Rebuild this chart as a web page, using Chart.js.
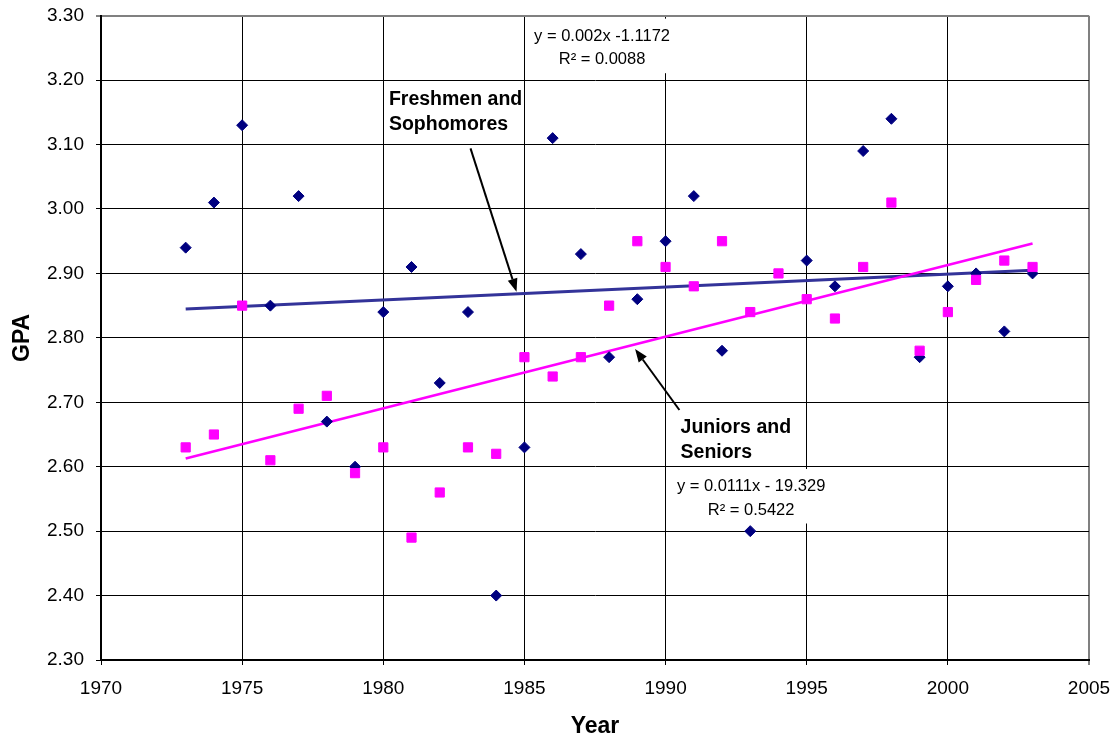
<!DOCTYPE html>
<html lang="en">
  <head>
    <meta charset="UTF-8" />
    <title>GPA by Year</title>
    <style>
      html, body { margin: 0; padding: 0; background: #fff; }
      #wrap { width: 1119px; height: 740px; }
    </style>
    <script src="https://cdn.jsdelivr.net/npm/chart.js"></script>
  </head>
  <body>
    <div id="wrap"><canvas id="gpaChart" width="1119" height="740"></canvas></div>
    <script>
      const years = [
        1973, 1974, 1975, 1976, 1977, 1978, 1979, 1980, 1981, 1982,
        1983, 1984, 1985, 1986, 1987, 1988, 1989, 1990, 1991, 1992,
        1993, 1994, 1995, 1996, 1997, 1998, 1999, 2000, 2001, 2002, 2003
      ];
      // Freshmen and Sophomores (1994 sits above the 3.30 axis max, so it is clipped)
      const fsGpa = [
        2.94, 3.01, 3.13, 2.85, 3.02, 2.67, 2.60, 2.84, 2.91, 2.73,
        2.84, 2.40, 2.63, 3.11, 2.93, 2.77, 2.86, 2.95, 3.02, 2.78,
        2.50, 3.34, 2.92, 2.88, 3.09, 3.14, 2.77, 2.88, 2.90, 2.81, 2.90
      ];
      // Juniors and Seniors
      const jsGpa = [
        2.63, 2.65, 2.85, 2.61, 2.69, 2.71, 2.59, 2.63, 2.49, 2.56,
        2.63, 2.62, 2.77, 2.74, 2.77, 2.85, 2.95, 2.91, 2.88, 2.95,
        2.84, 2.90, 2.86, 2.83, 2.91, 3.01, 2.78, 2.84, 2.89, 2.92, 2.91
      ];
      const xRange = [1970, 2005];
      const yRange = [2.3, 3.3];

      const FONT = "'Liberation Sans', Arial, sans-serif";

      // least squares trend line, like Excel's linear trendline
      function trend(xs, ys) {
        const n = xs.length;
        const mx = xs.reduce((a, b) => a + b, 0) / n;
        const my = ys.reduce((a, b) => a + b, 0) / n;
        let sxy = 0, sxx = 0;
        for (let i = 0; i < n; i++) {
          sxy += (xs[i] - mx) * (ys[i] - my);
          sxx += (xs[i] - mx) * (xs[i] - mx);
        }
        const m = sxy / sxx;
        const b = my - m * mx;
        const x0 = xs[0], x1 = xs[n - 1];
        return [{ x: x0, y: m * x0 + b }, { x: x1, y: m * x1 + b }];
      }

      const toPoints = (ys) => years.map((x, i) => ({ x: x, y: ys[i] }));

      // text notes and arrows, anchored in data units
      const notes = [
        { lines: ["Freshmen and", "Sophomores"], x: 1980.2, y: 3.1614, bold: true, align: "left", box: false },
        { lines: ["Juniors and", "Seniors"], x: 1990.53, y: 2.653, bold: true, align: "left", box: false },
        { lines: ["y = 0.002x -1.1172", "R\u00b2 = 0.0088"], x: 1987.75, y: 3.2612, bold: false, align: "center", box: true },
        { lines: ["y = 0.0111x - 19.329", "R\u00b2 = 0.5422"], x: 1993.03, y: 2.5623, bold: false, align: "center", box: true }
      ];
      const arrows = [
        { from: [1983.09, 3.094], to: [1984.72, 2.8716] },
        { from: [1990.49, 2.688], to: [1988.92, 2.7827] }
      ];

      const notesPlugin = {
        id: "notes",
        afterDatasetsDraw(chart) {
          const { ctx, scales } = chart;
          const sx = scales.x, sy = scales.y;
          ctx.save();
          notes.forEach((n) => {
            const px = sx.getPixelForValue(n.x);
            const py = sy.getPixelForValue(n.y);
            const size = n.bold ? 19.5 : 16.5;
            const gap = n.bold ? 25 : 23.5;
            ctx.font = (n.bold ? "bold " : "") + size + "px " + FONT;
            ctx.textAlign = n.align;
            ctx.textBaseline = "alphabetic";
            if (n.box) {
              const w = Math.max(...n.lines.map((l) => ctx.measureText(l).width));
              const left = n.align === "center" ? px - w / 2 : px;
              ctx.fillStyle = "#fff";
              ctx.fillRect(left - 4, py - 22, w + 8, gap * (n.lines.length - 1) + 31);
            }
            ctx.fillStyle = "#000";
            n.lines.forEach((l, i) => ctx.fillText(l, px, py + i * gap));
          });
          arrows.forEach((a) => {
            const x0 = sx.getPixelForValue(a.from[0]), y0 = sy.getPixelForValue(a.from[1]);
            const x1 = sx.getPixelForValue(a.to[0]), y1 = sy.getPixelForValue(a.to[1]);
            const ang = Math.atan2(y1 - y0, x1 - x0);
            const len = 13, half = 5;
            const bx = x1 - len * Math.cos(ang), by = y1 - len * Math.sin(ang);
            ctx.strokeStyle = "#000";
            ctx.lineWidth = 2;
            ctx.beginPath();
            ctx.moveTo(x0, y0);
            ctx.lineTo(bx, by);
            ctx.stroke();
            ctx.fillStyle = "#000";
            ctx.beginPath();
            ctx.moveTo(x1, y1);
            ctx.lineTo(bx + half * Math.sin(ang), by - half * Math.cos(ang));
            ctx.lineTo(bx - half * Math.sin(ang), by + half * Math.cos(ang));
            ctx.closePath();
            ctx.fill();
          });
          ctx.restore();
        }
      };

      const ctx = document.getElementById("gpaChart").getContext("2d");
      new Chart(ctx, {
        type: "scatter",
        data: {
          datasets: [
            {
              label: "Juniors and Seniors",
              data: toPoints(jsGpa),
              pointStyle: "rect",
              pointRadius: 6.5,
              pointBorderWidth: 1,
              backgroundColor: "#ff00ff",
              borderColor: "#ff00ff",
              order: 0
            },
            {
              label: "Freshmen and Sophomores",
              data: toPoints(fsGpa),
              pointStyle: "rectRot",
              pointRadius: 5.5,
              pointBorderWidth: 1,
              backgroundColor: "#000080",
              borderColor: "#000080",
              order: 1
            },
            {
              type: "line",
              label: "Juniors and Seniors trend",
              data: trend(years, jsGpa),
              borderColor: "#ff00ff",
              borderWidth: 2.6,
              pointRadius: 0,
              fill: false,
              order: 2
            },
            {
              type: "line",
              label: "Freshmen and Sophomores trend",
              data: trend(years, fsGpa),
              borderColor: "#333399",
              borderWidth: 3,
              pointRadius: 0,
              fill: false,
              order: 3
            }
          ]
        },
        options: {
          responsive: false,
          animation: false,
          devicePixelRatio: 1,
          layout: { padding: { left: 0, right: 30, top: 15.7, bottom: 0 } },
          plugins: {
            legend: { display: false },
            tooltip: { enabled: false }
          },
          scales: {
            x: {
              type: "linear",
              min: xRange[0],
              max: xRange[1],
              afterFit: (scale) => {
                scale.height = 80;
                scale.paddingLeft = 0;
                scale.paddingRight = 0;
              },
              ticks: {
                stepSize: 5,
                padding: 12,
                color: "#000",
                font: { family: FONT, size: 19 },
                callback: (v) => String(v)
              },
              grid: {
                color: (c) => (c.tick && c.tick.value === xRange[1] ? "#808080" : "#000"),
                lineWidth: (c) => (c.tick && c.tick.value === xRange[1] ? 2 : 1),
                tickColor: "#000",
                tickWidth: 1,
                tickLength: 5
              },
              border: { display: true, color: "#000", width: 2 },
              title: {
                display: true,
                text: "Year",
                color: "#000",
                font: { family: FONT, size: 23, weight: "bold" },
                padding: { top: 0, bottom: 0 }
              }
            },
            y: {
              min: yRange[0],
              max: yRange[1],
              afterFit: (scale) => {
                scale.width = 101;
                scale.paddingTop = 0;
                scale.paddingBottom = 0;
              },
              ticks: {
                stepSize: 0.1,
                padding: 12,
                color: "#000",
                font: { family: FONT, size: 19 },
                callback: (v) => Number(v).toFixed(2)
              },
              grid: {
                color: (c) => (c.tick && Math.abs(c.tick.value - yRange[1]) < 1e-6 ? "#808080" : "#000"),
                lineWidth: (c) => (c.tick && Math.abs(c.tick.value - yRange[1]) < 1e-6 ? 2 : 1),
                tickColor: "#000",
                tickWidth: 1,
                tickLength: 5
              },
              border: { display: true, color: "#000", width: 2 },
              title: {
                display: true,
                text: "GPA",
                color: "#000",
                font: { family: FONT, size: 23, weight: "bold" },
                padding: { top: 9, bottom: 0 }
              }
            }
          }
        },
        plugins: [notesPlugin]
      });
    </script>
  </body>
</html>
